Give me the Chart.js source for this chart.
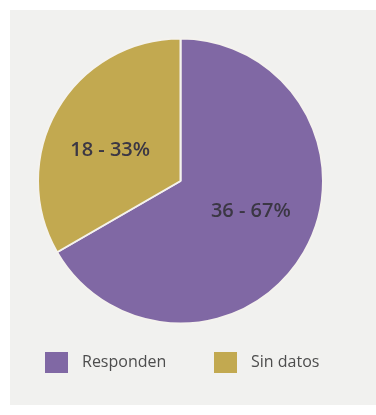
<!DOCTYPE html>
<html>
<head>
<meta charset="utf-8">
<script src="https://cdn.jsdelivr.net/npm/chart.js@4/dist/chart.umd.min.js"></script>
<style>
  html, body { margin: 0; padding: 0; background: #ffffff; }
  #panel { position: absolute; left: 10px; top: 10px; width: 366px; height: 395px; background: #f1f1ef; }
  #wrap { position: absolute; left: 0; top: 0; width: 376px; height: 415px; }
</style>
</head>
<body>
<div id="panel"></div>
<div id="wrap"><canvas id="pieChart" width="376" height="415"></canvas></div>
<script>
// datos del gráfico
const categorias = ["Responden", "Sin datos"];
const valores = [36, 18];
const colores = ["#8068a4", "#c2a950"];

const total = valores.reduce((a, b) => a + b, 0);

// etiquetas "n - %" dentro de cada porción
const etiquetasPlugin = {
    id: "etiquetas",
    afterDatasetsDraw(chart) {
        const ctx = chart.ctx;
        const meta = chart.getDatasetMeta(0);
        ctx.save();
        ctx.font = "600 20px 'Open Sans'";
        ctx.fillStyle = "#3b3744";
        ctx.textAlign = "center";
        ctx.textBaseline = "middle";
        meta.data.forEach((arc, i) => {
            const p = arc.getProps(["x", "y", "startAngle", "endAngle", "outerRadius"], true);
            const mid = (p.startAngle + p.endAngle) / 2;
            const x = p.x + Math.cos(mid) * p.outerRadius * 0.57;
            const y = p.y + Math.sin(mid) * p.outerRadius * 0.43;
            const pct = Math.round(valores[i] / total * 100);
            ctx.fillText(valores[i] + " - " + pct + "%", x, y);
        });
        ctx.restore();
    }
};

// leyenda dibujada a mano debajo del gráfico
const leyendaPlugin = {
    id: "leyenda",
    afterDraw(chart, args, opts) {
        const ctx = chart.ctx;
        ctx.save();
        ctx.font = "16px 'Open Sans'";
        ctx.textBaseline = "middle";
        chart.data.labels.forEach((label, i) => {
            const x = opts.x[i];
            ctx.fillStyle = chart.data.datasets[0].backgroundColor[i];
            ctx.fillRect(x, opts.y, opts.box, opts.box - 2);
            ctx.fillStyle = "#4d4d4d";
            ctx.fillText(label, x + opts.box + 14, opts.y + opts.box / 2 - 1);
        });
        ctx.restore();
    }
};

new Chart(document.getElementById("pieChart"), {
    type: "pie",
    data: {
        labels: categorias,
        datasets: [{
            data: valores,
            backgroundColor: colores,
            borderColor: "#f4f2ee",
            borderWidth: 2
        }]
    },
    options: {
        responsive: false,
        animation: false,
        layout: { padding: { left: 37, top: 37, right: 52, bottom: 90 } },
        plugins: {
            legend: { display: false },
            tooltip: { enabled: false },
            leyenda: { x: [45, 214], y: 352, box: 23 }
        }
    },
    plugins: [etiquetasPlugin, leyendaPlugin]
});
</script>
</body>
</html>
